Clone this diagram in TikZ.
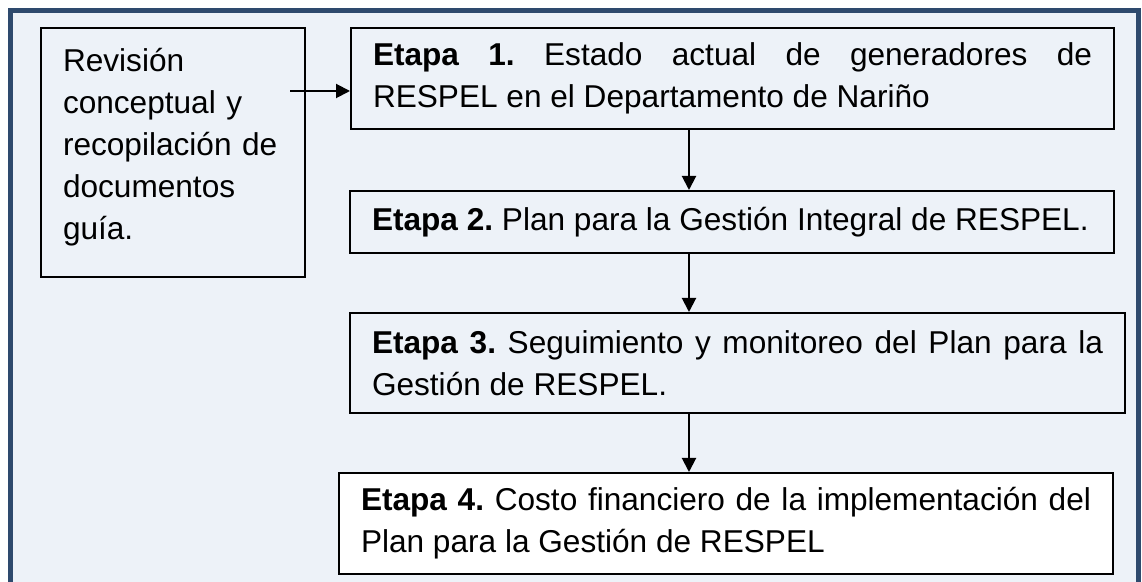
\documentclass[tikz,border=0pt]{standalone}
\usepackage{fontspec}
\setmainfont{Liberation Sans}
\usetikzlibrary{arrows.meta}

\definecolor{framecol}{HTML}{2E4A6D}
\definecolor{panelcol}{HTML}{EDF2F8}

\begin{document}
\frenchspacing
\begin{tikzpicture}[x=0.5pt, y=-0.5pt,
    every node/.style={font=\fontsize{15.8}{21}\selectfont},
    stagebox/.style={draw, line width=1pt, anchor=north west, inner xsep=11pt, inner ysep=0pt, align=justify},
    flow/.style={-{Triangle[length=7pt, width=7pt]}, line width=1pt}]

    \useasboundingbox (0,0) rectangle (1142,582);

    % Outer panel
    \draw[framecol, line width=2.5pt, fill=panelcol] (10.5,10.5) rectangle (1138,610);

    % Review box
    \node[stagebox, align=left, text width=110pt, minimum height=124.5pt] (review) at (40,27)
        {Revisión\\conceptual y\\recopilación de\\documentos\\guía.\\[-12pt]\mbox{}};

    % Etapa 1
    \node[stagebox, text width=359.5pt, minimum height=50.5pt] (stage1) at (350,27)
        {\textbf{Etapa 1.} Estado actual de generadores de\linebreak RESPEL en el Departamento de Nariño};

    % Etapa 2
    \node[stagebox, text width=360pt, minimum height=31pt] (stage2) at (349,190)
        {\textbf{Etapa 2.} Plan para la Gestión Integral de RESPEL.};

    % Etapa 3
    \node[stagebox, text width=365.5pt, minimum height=50pt] (stage3) at (349,312)
        {\textbf{Etapa 3.} Seguimiento y monitoreo del Plan para la\linebreak Gestión de RESPEL.};

    % Etapa 4
    \node[stagebox, fill=white, text width=365pt, minimum height=50.5pt] (stage4) at (338,472)
        {\textbf{Etapa 4.} Costo financiero de la implementación del\linebreak Plan para la Gestión de RESPEL};

    % arrows
    \coordinate (start) at (290,91);
    \coordinate (spine) at (689,0);
    \draw[flow] (start) -- (start -| stage1.west);
    \draw[flow] (stage1.south -| spine) -- (stage2.north -| spine);
    \draw[flow] (stage2.south -| spine) -- (stage3.north -| spine);
    \draw[flow] (stage3.south -| spine) -- (stage4.north -| spine);

\end{tikzpicture}
\end{document}
